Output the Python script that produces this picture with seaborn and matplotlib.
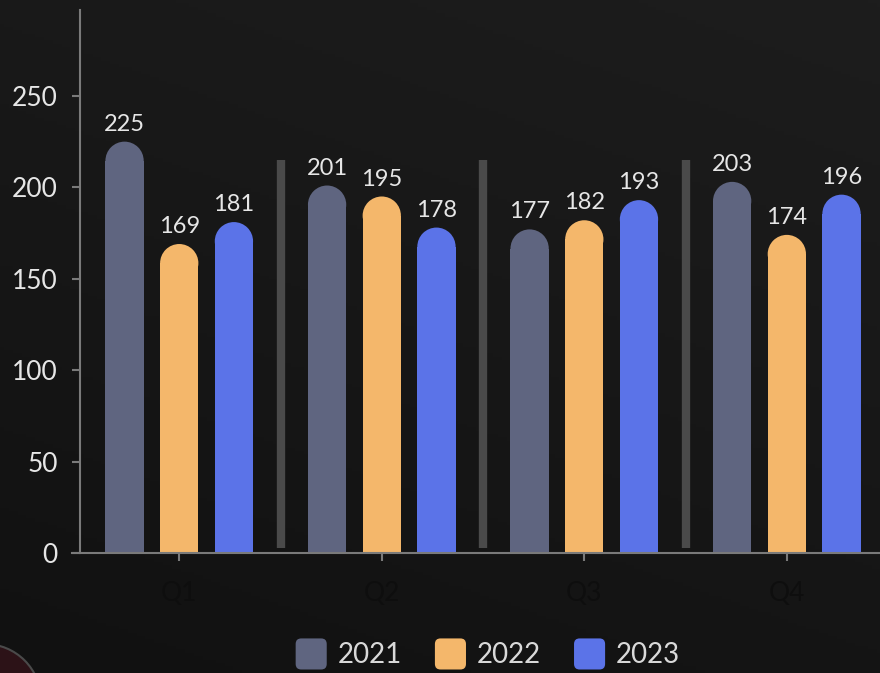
import numpy as np
import pandas as pd
import seaborn as sns
import matplotlib.pyplot as plt
from matplotlib.patches import Ellipse, Circle, FancyBboxPatch, Patch
from matplotlib.legend_handler import HandlerPatch

quarters = ['Q1', 'Q2', 'Q3', 'Q4']
years = ['2021', '2022', '2023']
sales_2021 = [225, 201, 177, 203]
sales_2022 = [169, 195, 182, 174]
sales_2023 = [181, 178, 193, 196]
colors = ['#5f6580', '#f4b76b', '#5b73e8']

df = pd.DataFrame({
    'quarter': quarters * 3,
    'year': [y for y in years for _ in quarters],
    'value': sales_2021 + sales_2022 + sales_2023,
})

sns.set_theme(style='dark')
plt.rcParams['font.family'] = ['Lato', 'DejaVu Sans']

fig = plt.figure(figsize=(8.8, 6.73), dpi=100)

# background gradient
bg = fig.add_axes([0, 0, 1, 1], zorder=-10)
yy, xx = np.mgrid[0:1:200j, 0:1:200j]
grad = 0.55 * yy + 0.25 * xx
bg.imshow(grad, cmap=sns.blend_palette(['#111111', '#1d1d1d'], as_cmap=True),
          extent=[0, 1, 0, 1], origin='lower', aspect='auto')
bg.axis('off')
# faint logo in the corner
fig.patches.append(Circle((-0.15, -0.27), 0.56, transform=fig.dpi_scale_trans,
                          facecolor='#2c1217', edgecolor='#4a4a4a', linewidth=1.5, zorder=-5))

ax = fig.add_axes([80 / 880, 1 - 553 / 673, 1 - 80 / 880, (553 - 10) / 673])
ax.set_facecolor('none')

sns.barplot(data=df, x='quarter', y='value', hue='year', palette=colors,
            width=0.81, gap=0.3, legend=False, ax=ax, saturation=1)

ax.set_xlim(-0.49, 3.46)
ax.set_ylim(0, 297)

for cont in ax.containers:
    ax.bar_label(cont, padding=5, color='#e6e6e6', fontsize=17)

# rounded tops
px_per_y = ax.transData.transform((0, 1))[1] - ax.transData.transform((0, 0))[1]
px_per_x = ax.transData.transform((1, 0))[0] - ax.transData.transform((0, 0))[0]
for cont in ax.containers:
    for p in cont:
        x, w, h = p.get_x(), p.get_width(), p.get_height()
        ry = (w * px_per_x / 2) / px_per_y
        p.set_height(h - ry)
        p.set_linewidth(0)
        ax.add_patch(Ellipse((x + w / 2, h - ry), w, 2 * ry,
                             facecolor=p.get_facecolor(), linewidth=0))

# group separators
ax.vlines([0.5, 1.5, 2.5], 3, 215, color='#4a4a4a', linewidth=6)

ax.set_xlabel('')
ax.set_ylabel('')
ax.set_yticks([0, 50, 100, 150, 200, 250])
ax.tick_params(axis='y', colors='#7a7a7a', labelcolor='#e6e6e6', labelsize=19,
               length=6, width=1.5, pad=10, left=True)
ax.tick_params(axis='x', colors='#7a7a7a', labelcolor='#0e0e0e', labelsize=19,
               length=6, width=1.5, pad=14, bottom=True)
ax.grid(False)
for side in ['top', 'right']:
    ax.spines[side].set_visible(False)
for side in ['left', 'bottom']:
    ax.spines[side].set_color('#7a7a7a')
    ax.spines[side].set_linewidth(1.5)
ax.spines['bottom'].set_bounds(-0.53, 3.46)


def rounded_square(legend, orig_handle, xdescent, ydescent, width, height, fontsize):
    s = height * 1.25
    return FancyBboxPatch((-xdescent + (width - s) / 2, -ydescent + (height - s) / 2), s, s,
                          boxstyle='round,pad=0,rounding_size=%f' % (s * 0.18))


handles = [Patch(facecolor=c, edgecolor='none', linewidth=0, label=y)
           for c, y in zip(colors, years)]
leg = fig.legend(handles=handles, loc='center', bbox_to_anchor=(488 / 880, 1 - 655 / 673),
                 ncol=3, frameon=False, fontsize=20, labelcolor='#d9d9d9',
                 handlelength=1.1, handleheight=1.0, handletextpad=0.4, columnspacing=1.2,
                 handler_map={Patch: HandlerPatch(patch_func=rounded_square)})

fig.savefig('out.png', dpi=100)
